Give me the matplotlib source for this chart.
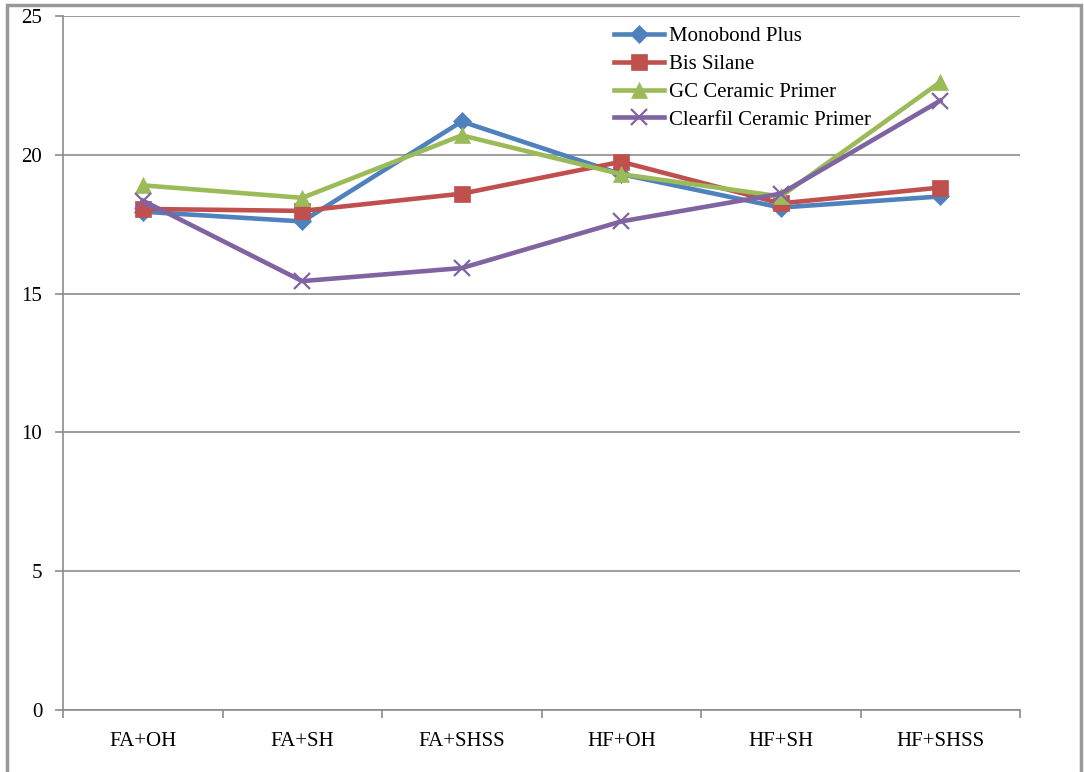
import matplotlib.pyplot as plt
from matplotlib.patches import Rectangle
import numpy as np

# data
categories = ['FA+OH', 'FA+SH', 'FA+SHSS', 'HF+OH', 'HF+SH', 'HF+SHSS']
monobond_plus = [17.95, 17.6, 21.2, 19.3, 18.1, 18.5]
bis_silane = [18.05, 17.98, 18.6, 19.75, 18.25, 18.82]
gc_ceramic_primer = [18.9, 18.45, 20.7, 19.3, 18.5, 22.62]
clearfil_ceramic_primer = [18.35, 15.45, 15.92, 17.6, 18.6, 21.95]
y_ticks = [0, 5, 10, 15, 20, 25]

plt.rcParams['font.family'] = ['Liberation Serif', 'DejaVu Serif']

fig = plt.figure(figsize=(10.84, 7.72), dpi=100)
ax = fig.add_axes([63 / 1084, 1 - 710 / 772, 957 / 1084, 694 / 772])

x = np.arange(len(categories))
series = [
    ('Monobond Plus', monobond_plus, '#4F81BD', 'D', 9),
    ('Bis Silane', bis_silane, '#C0504D', 's', 11),
    ('GC Ceramic Primer', gc_ceramic_primer, '#9BBB59', '^', 11),
    ('Clearfil Ceramic Primer', clearfil_ceramic_primer, '#8064A2', 'x', 12),
]
for name, vals, col, mk, ms in series:
    ax.plot(x, vals, color=col, lw=3.3, marker=mk, markersize=ms,
            markeredgewidth=1.6 if mk == 'x' else 0.5, label=name)

ax.set_xlim(-0.5, len(categories) - 0.5)
ax.set_ylim(0, 25)
ax.set_yticks(y_ticks)
ax.set_yticklabels([str(t) for t in y_ticks], fontsize=15)
ax.yaxis.grid(True, color='#8c8c8c', lw=1.2)
ax.set_axisbelow(True)

# category labels centred, ticks between categories
ax.set_xticks(np.arange(-0.5, len(categories), 1.0))
ax.set_xticklabels([])
ax.set_xticks(x, minor=True)
ax.set_xticklabels(categories, minor=True, fontsize=15)
ax.tick_params(axis='x', which='minor', length=0, pad=16)
ax.tick_params(axis='x', which='major', length=6, color='#8c8c8c', width=1.2)
ax.tick_params(axis='y', length=6, color='#8c8c8c', width=1.2, pad=9)

for s in ['top', 'right']:
    ax.spines[s].set_visible(False)
for s in ['left', 'bottom']:
    ax.spines[s].set_color('#8c8c8c')
    ax.spines[s].set_linewidth(1.2)

leg = ax.legend(loc='upper left', bbox_to_anchor=(0.556, 1.012), frameon=False,
                fontsize=15, handlelength=2.4, labelspacing=0.4, handletextpad=0.25)

# outer frame of the picture
fig.patches.append(Rectangle((7 / 1084, -0.05), 1074 / 1084, 1.05 - 5 / 772,
                             transform=fig.transFigure, fill=False,
                             edgecolor='#999999', lw=2.5, clip_on=False))

fig.savefig('out.png', dpi=100)
